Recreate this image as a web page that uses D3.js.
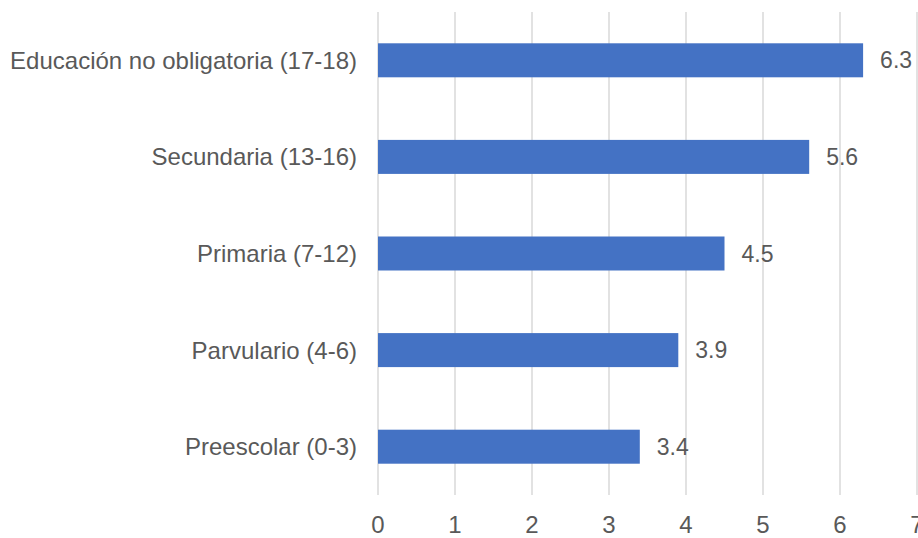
<!DOCTYPE html>
<html>
<head>
<meta charset="utf-8">
<script src="https://cdn.jsdelivr.net/npm/d3@7"></script>
<style>
  body { margin: 0; background: #fff; overflow: hidden; }
  text { font-family: "Liberation Sans", Arial, sans-serif; fill: #595959; }
</style>
</head>
<body>
<script>
// data
var categories = ["Educación no obligatoria (17-18)", "Secundaria (13-16)", "Primaria (7-12)", "Parvulario (4-6)", "Preescolar (0-3)"];
var values = [6.3, 5.6, 4.5, 3.9, 3.4];
var ticks = [0, 1, 2, 3, 4, 5, 6, 7];

var width = 918, height = 538;
var margin = {top: 12, right: 1, bottom: 43, left: 378};

var svg = d3.select("body").append("svg")
    .attr("width", width)
    .attr("height", height)
    .style("display", "block");

var x = d3.scaleLinear()
    .domain([0, 7])
    .range([margin.left, width - margin.right]);

var y = d3.scaleBand()
    .domain(categories)
    .range([margin.top, height - margin.bottom])
    .paddingInner(0.648)
    .paddingOuter(0.324);

// gridlines
svg.selectAll(".grid")
    .data(ticks)
    .enter().append("line")
    .attr("x1", function(d) { return x(d); })
    .attr("x2", function(d) { return x(d); })
    .attr("y1", margin.top)
    .attr("y2", height - margin.bottom)
    .style("stroke", "#d9d9d9")
    .style("stroke-width", 1.5);

// tick labels
svg.selectAll(".tick")
    .data(ticks)
    .enter().append("text")
    .attr("x", function(d) { return x(d); })
    .attr("y", 533)
    .attr("text-anchor", "middle")
    .style("font-size", "24px")
    .text(function(d) { return d; });

// bars
svg.selectAll(".bar")
    .data(values)
    .enter().append("rect")
    .attr("x", x(0))
    .attr("y", function(d, i) { return y(categories[i]); })
    .attr("width", function(d) { return x(d) - x(0); })
    .attr("height", y.bandwidth())
    .style("fill", "#4472c4");

// category labels
svg.selectAll(".cat")
    .data(categories)
    .enter().append("text")
    .attr("x", x(0) - 21)
    .attr("y", function(d) { return y(d) + y.bandwidth() / 2; })
    .attr("dy", "0.35em")
    .attr("text-anchor", "end")
    .style("font-size", "24px")
    .text(function(d) { return d; });

// value labels
svg.selectAll(".val")
    .data(values)
    .enter().append("text")
    .attr("x", function(d) { return x(d) + 17; })
    .attr("y", function(d, i) { return y(categories[i]) + y.bandwidth() / 2; })
    .attr("dy", "0.35em")
    .style("font-size", "23px")
    .text(function(d) { return d.toFixed(1); });
</script>
</body>
</html>
